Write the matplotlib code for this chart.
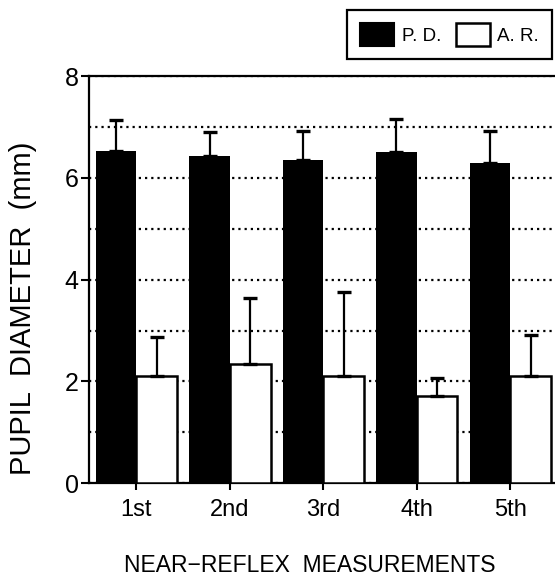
import numpy as np
import matplotlib
matplotlib.use("Agg")
import matplotlib.pyplot as plt
from matplotlib.patches import Patch

plt.rcParams["font.family"] = ["Liberation Sans", "DejaVu Sans"]

# data
MEASUREMENTS = ["1st", "2nd", "3rd", "4th", "5th"]
PD_MEAN = [6.53, 6.43, 6.35, 6.50, 6.30]
PD_SD   = [0.60, 0.47, 0.56, 0.65, 0.62]
AR_MEAN = [2.11, 2.34, 2.11, 1.72, 2.11]
AR_SD   = [0.77, 1.29, 1.65, 0.34, 0.81]
YTICKS = [0, 2, 4, 6, 8]
YGRID  = [1, 3, 5, 7]

W, H = 555, 576
fig = plt.figure(figsize=(W / 100, H / 100), dpi=100)
ax = fig.add_axes([89 / W, 1 - 483.3 / H, 468 / W, 407.3 / H])

x = np.arange(1, len(MEASUREMENTS) + 1)
bw = 0.435

ax.set_axisbelow(True)
ax.set_yticks(YTICKS)
ax.set_yticks(YGRID, minor=True)
ax.grid(axis="y", which="both", color="black", linewidth=1.6,
        linestyle=(0, (1, 1.8)))

ax.bar(x - bw / 2, PD_MEAN, bw, color="black", edgecolor="black",
       linewidth=0, zorder=3)
ax.bar(x + bw / 2, AR_MEAN, bw, color="white", edgecolor="black",
       linewidth=1.8, zorder=3)

zeros = np.zeros(len(x))
ax.errorbar(x - bw / 2, PD_MEAN, yerr=[zeros, PD_SD], fmt="none",
            ecolor="black", elinewidth=1.6, capsize=4.7, capthick=2.4,
            zorder=4)
ax.errorbar(x + bw / 2, AR_MEAN, yerr=[zeros, AR_SD], fmt="none",
            ecolor="black", elinewidth=1.6, capsize=4.7, capthick=2.4,
            zorder=4)

ax.set_xlim(0.493, 5.5)
ax.set_ylim(0, 8)
ax.set_xticks(x)
ax.set_xticklabels(MEASUREMENTS, fontsize=17)
ax.tick_params(axis="y", which="major", labelsize=18, length=6, width=1.5,
               pad=1.5, direction="out")
ax.tick_params(axis="y", which="minor", length=0)
ax.tick_params(axis="x", length=5, width=1.5, pad=6, direction="out")

for s in ["left", "bottom", "top"]:
    ax.spines[s].set_linewidth(1.6)
ax.spines["right"].set_visible(False)

fig.text(23 / W, 1 - 308.5 / H, "PUPIL  DIAMETER  (mm)", rotation=90,
         ha="center", va="center", fontsize=21)
fig.text(309.5 / W, 1 - 565 / H, "NEAR\u2212REFLEX  MEASUREMENTS",
         ha="center", va="center", fontsize=16.5)

handles = [Patch(facecolor="black", edgecolor="black", linewidth=1.5),
           Patch(facecolor="white", edgecolor="black", linewidth=1.8)]
leg = fig.legend(handles, ["P. D.", "A. R."], loc="upper right",
                 bbox_to_anchor=(552 / W, 1 - 10 / H), ncol=2,
                 fontsize=13.5, frameon=True, fancybox=False,
                 handlelength=1.8, handleheight=1.5, handletextpad=0.4,
                 columnspacing=0.8, borderpad=0.7, borderaxespad=0)
leg.get_frame().set_edgecolor("black")
leg.get_frame().set_linewidth(1.6)
leg.get_frame().set_alpha(1)

fig.savefig("out.png", dpi=100)
